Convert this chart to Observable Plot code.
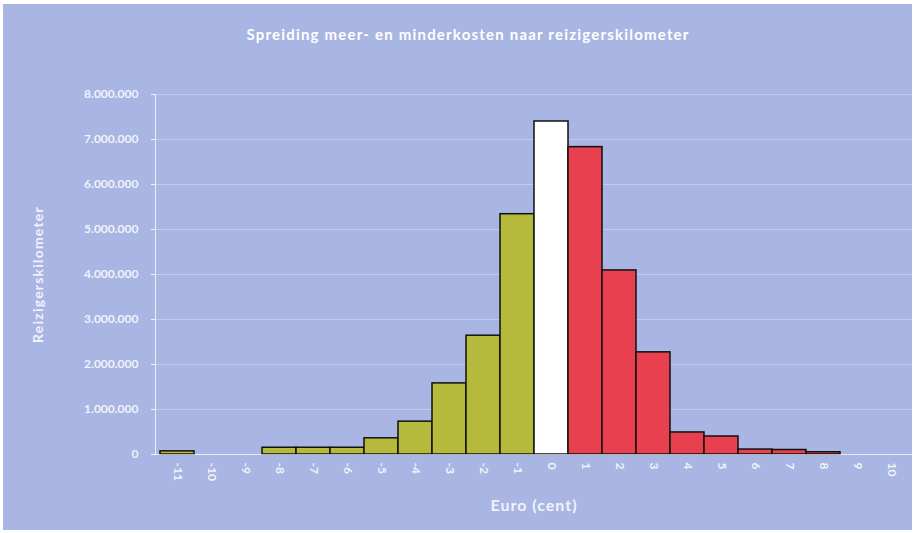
<!DOCTYPE html>
<html>
<head>
<meta charset="utf-8">
<script src="https://cdn.jsdelivr.net/npm/d3@7"></script>
<script src="https://cdn.jsdelivr.net/npm/@observablehq/plot@0.6"></script>
<style>
  html, body { margin: 0; padding: 0; background: #ffffff; }
  #frame {
    position: absolute; left: 3px; top: 4px; width: 909px; height: 526px;
    background: #a9b5e3; overflow: hidden;
    font-family: Lato, "Open Sans", sans-serif;
  }
  #title {
    position: absolute; left: 0; top: 21px; width: 930px; text-align: center;
    color: #ffffff; font-size: 15px; font-weight: 700; letter-spacing: 1.2px;
  }
  #chart { position: absolute; left: 0; top: 56px; }
  #chart g[aria-label="y-axis label"] text { font-size: 14px; letter-spacing: 1.2px; }
  #chart g[aria-label="x-axis label"] text { font-size: 16px; letter-spacing: 1px; }
</style>
</head>
<body>
<div id="frame">
  <div id="title">Spreiding meer- en minderkosten naar reizigerskilometer</div>
  <div id="chart"></div>
</div>
<script>
const categories = [-11, -10, -9, -8, -7, -6, -5, -4, -3, -2, -1, 0, 1, 2, 3, 4, 5, 6, 7, 8, 9, 10];
const kilometers = [70000, 0, 0, 150000, 150000, 150000, 360000, 730000, 1580000, 2640000, 5340000, 7400000, 6830000, 4090000, 2270000, 490000, 400000, 110000, 100000, 50000, 0, 0];
const yTicks = [0, 1000000, 2000000, 3000000, 4000000, 5000000, 6000000, 7000000, 8000000];

const data = categories.map((c, i) => ({
  cent: c,
  km: kilometers[i],
  sign: c < 0 ? "min" : c === 0 ? "nul" : "meer"
}));

const nl = d3.formatLocale({decimal: ",", thousands: ".", grouping: [3], currency: ["€", ""]});
const fmt = nl.format(",d");

const chart = Plot.plot({
  width: 909,
  height: 470,
  marginLeft: 152,
  marginRight: 0,
  marginTop: 34,
  marginBottom: 76,
  style: {background: "transparent", color: "#ffffff", fontFamily: "Lato, 'Open Sans', sans-serif", fontSize: "12px"},
  x: {type: "band", domain: categories, padding: 0},
  y: {domain: [0, 8000000]},
  color: {domain: ["min", "nul", "meer"], range: ["#b6ba3c", "#ffffff", "#e8404f"]},
  marks: [
    Plot.gridY(yTicks, {stroke: "#ffffff", strokeOpacity: 0.3}),
    Plot.barY(data, {filter: d => d.km > 0, x: "cent", y: "km", fill: "sign", stroke: "#111111", strokeWidth: 1.5, inset: 0}),
    Plot.axisY({ticks: yTicks, tickFormat: fmt, tickSize: 4, tickPadding: 13, label: "Reizigerskilometer", labelArrow: "none", labelAnchor: "center", labelOffset: 122, fontWeight: 700, color: "#f0f3fb"}),
    Plot.axisX({tickRotate: 90, tickSize: 0, tickPadding: 8, tickFormat: d => String(d), label: "Euro (cent)", labelArrow: "none", labelAnchor: "center", labelOffset: 56, color: "#f0f3fb", fontWeight: 700}),
    Plot.frame({anchor: "left", stroke: "#ffffff", strokeOpacity: 0.8}),
    Plot.ruleY([0], {stroke: "#ffffff", strokeOpacity: 0.6})
  ]
});
document.getElementById("chart").appendChild(chart);
</script>
</body>
</html>
